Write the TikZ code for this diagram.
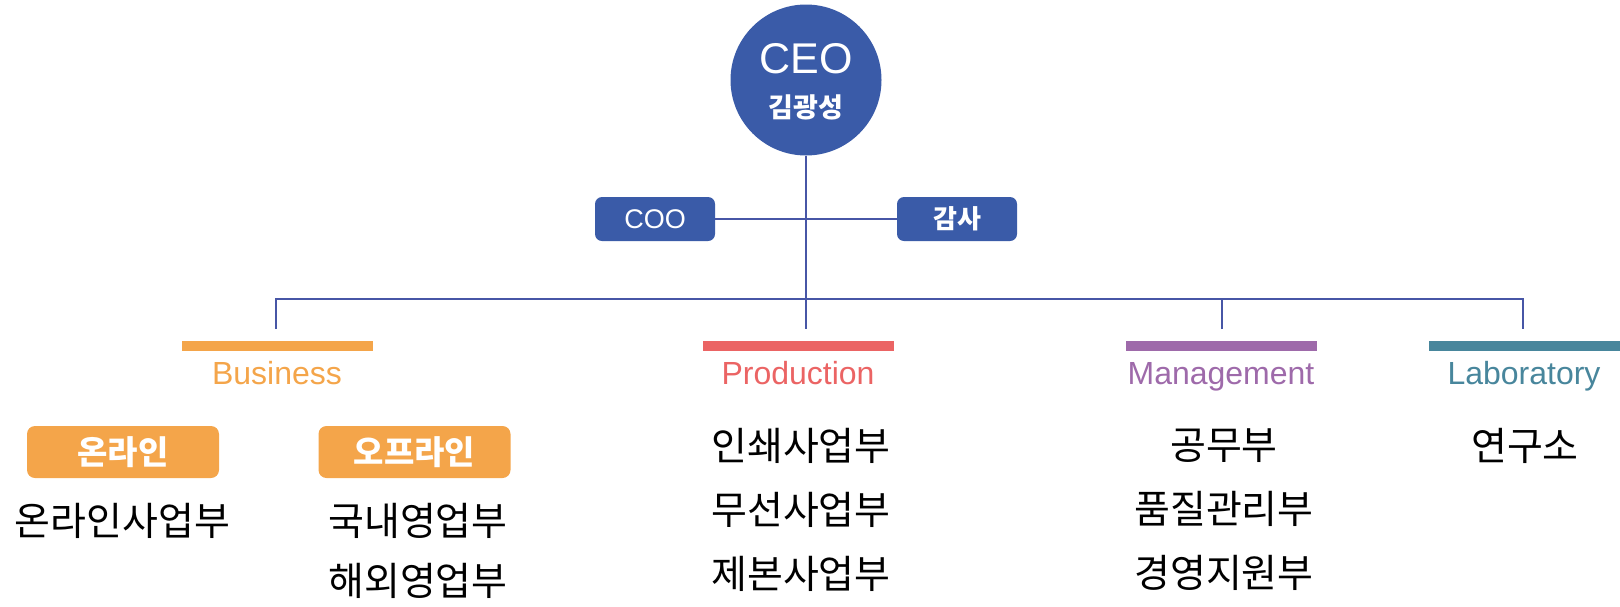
\documentclass[tikz,border=0pt]{standalone}
\usepackage{fontspec}
\setmainfont{Liberation Sans}
\newfontfamily\krfont{Noto Sans CJK KR}
\usepackage{xcolor}
\usetikzlibrary{positioning}

\definecolor{ceoblue}{HTML}{3A5BA8}
\definecolor{lineblue}{HTML}{4756A6}
\definecolor{bizorange}{HTML}{F4A54A}
\definecolor{prodred}{HTML}{EB6464}
\definecolor{mgmtpurple}{HTML}{9E6AAA}
\definecolor{labteal}{HTML}{48869C}

\begin{document}
\begin{tikzpicture}[x=1pt,y=-1pt,
%
    link/.style={draw=lineblue, line width=2.8pt},
    boss/.style={circle,fill=ceoblue,minimum size=151pt,inner sep=0pt},
    staff/.style={rounded corners=7pt,fill=ceoblue,minimum width=120pt,minimum height=44pt,
                  inner sep=0pt,text=white},
    bar/.style={fill=#1,minimum width=191pt,minimum height=10pt,inner sep=0pt},
    dept/.style={text=#1,anchor=base,font=\fontsize{32}{32}\selectfont},
    tag/.style={rounded corners=8pt,fill=bizorange,minimum width=192pt,minimum height=52pt,
                inner sep=0pt,text=white,font=\krfont\bfseries\fontsize{33}{33}\selectfont},
    unit/.style={align=center,font=\krfont\fontsize{39}{#1}\selectfont},
                        ]
    \useasboundingbox (0,0) rectangle (1620,606);

    % top
    \node[boss] (ceo) at (806,80) {};
    \node[text=white,font=\fontsize{43}{43}\selectfont] (ceo_title) at (806,59) {CEO};
    \node[text=white,font=\krfont\bfseries\fontsize{27}{27}\selectfont] (ceo_name) at (806,107) {김광성};
    \node[staff,font=\fontsize{27}{27}\selectfont] (coo_node) at (655,219) {COO};
    \node[staff,font=\krfont\bfseries\fontsize{26}{26}\selectfont] (audit_node) at (957,219) {감사};

    % bus ends
    \coordinate (biz_top)  at (276,329);
    \coordinate (prod_top) at (806,329);
    \coordinate (mgmt_top) at (1222,329);
    \coordinate (lab_top)  at (1523,329);

    \draw[link] (ceo.south) -- (prod_top);
    \draw[link] (coo_node.east) -- (audit_node.west);
    \draw[link] (biz_top) -- ++(0,-30) -| (lab_top);
    \draw[link] (mgmt_top) -- ++(0,-30);

    % departments
    \node[bar=bizorange]  (biz_bar)  at (277,346) {};
    \node[bar=prodred]    (prod_bar) at (798,346) {};
    \node[bar=mgmtpurple] (mgmt_bar) at (1221,346) {};
    \node[bar=labteal]    (lab_bar)  at (1524,346) {};

    \node[dept=bizorange]  (biz_label)  at (277,384)  {Business};
    \node[dept=prodred]    (prod_label) at (798,384)  {Production};
    \node[dept=mgmtpurple] (mgmt_label) at (1221,384) {Management};
    \node[dept=labteal]    (lab_label)  at (1524,384) {Laboratory};

    % business
    \node[tag] (online_tag)  at (123,452)   {온라인};
    \node[tag] (offline_tag) at (414.5,452) {오프라인};
    \node[unit=60] (online_units)  at (122.5,521) {온라인사업부};
    \node[unit=60] (offline_units) at (418,551)   {국내영업부\\해외영업부};

    % others
    \node[unit=64] (prod_units) at (801,510)  {인쇄사업부\\무선사업부\\제본사업부};
    \node[unit=64] (mgmt_units) at (1224,510) {공무부\\품질관리부\\경영지원부};
    \node[unit=64] (lab_units)  at (1525,446) {연구소};

\end{tikzpicture}
\end{document}
